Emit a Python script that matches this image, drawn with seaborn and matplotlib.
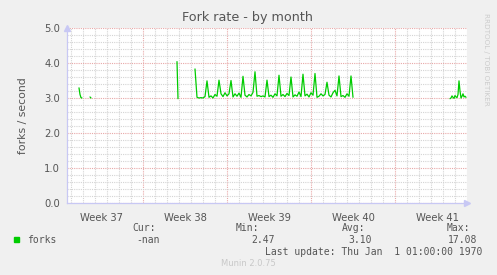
import numpy as np
import pandas as pd
import matplotlib
matplotlib.use("Agg")
import matplotlib.pyplot as plt
import matplotlib.dates as mdates
import seaborn as sns

# ---------------- data ----------------
title = "Fork rate - by month"
ylabel = "forks / second"
series_name = "forks"
week_labels = ["Week 37", "Week 38", "Week 39", "Week 40", "Week 41"]
week_starts = ["2024-09-09", "2024-09-16", "2024-09-23", "2024-09-30", "2024-10-07"]
view_start = "2024-09-09 16:00"
view_end = "2024-10-13 00:00"

seg1_start = "2024-09-10 16:00"
seg1_values = [3.29, 3.10, 3.01, 3.00]
seg2_start = "2024-09-11 14:00"
seg2_values = [3.03, 3.00]
seg3_start = "2024-09-18 20:00"
seg3_values = [4.04, 2.98]
seg4_start = "2024-09-20 08:00"
seg4_values = [3.83, 3.02, 3.00, 3.01, 3.00, 3.04,
               3.49, 3.02, 3.06, 3.00, 3.10, 3.05,
               3.51, 3.12, 3.04, 3.15, 3.06, 3.12,
               3.50, 3.03, 3.12, 3.05, 3.14, 3.02,
               3.62, 3.08, 3.03, 3.10, 3.06, 3.16,
               3.75, 3.05, 3.07, 3.04, 3.06, 3.03,
               3.51, 3.04, 3.08, 3.02, 3.12, 3.06,
               3.65, 3.05, 3.10, 3.04, 3.13, 3.07,
               3.60, 3.03, 3.09, 3.05, 3.17, 3.04,
               3.68, 3.06, 3.11, 3.03, 3.15, 3.08,
               3.70, 3.02, 3.05, 3.12, 3.06, 3.10,
               3.45, 3.08, 3.03, 3.15, 3.22, 3.06,
               3.63, 3.04, 3.07, 3.02, 3.12, 3.05,
               3.63, 3.02]
seg5_start = "2024-10-11 14:00"
seg5_values = [2.98, 3.00, 3.06, 3.02, 2.99, 3.07, 3.03, 3.01, 3.10,
               3.49, 3.20, 3.00, 3.05, 3.12, 3.03, 3.05, 3.02]

legend_headers = ["Cur:", "Min:", "Avg:", "Max:"]
legend_values = ["-nan", "2.47", "3.10", "17.08"]
last_update = "Last update: Thu Jan  1 01:00:00 1970"
footer = "Munin 2.0.75"
side_text = "RRDTOOL / TOBI OETIKER"

# ---------------- build frame ----------------
frames = []
segs = [(seg1_start, seg1_values, "4h"), (seg2_start, seg2_values, "2h"),
        (seg3_start, seg3_values, "2h"), (seg4_start, seg4_values, "4h"),
        (seg5_start, seg5_values, "2h")]
for k, (st, vals, fr) in enumerate(segs):
    t = pd.date_range(st, periods=len(vals), freq=fr)
    frames.append(pd.DataFrame({"time": t, "forks": vals, "segment": k}))
df = pd.concat(frames, ignore_index=True)
# seg1 uses 2h spacing really
df.loc[df.segment == 0, "time"] = pd.date_range(seg1_start, periods=len(seg1_values), freq="2h")

# ---------------- figure ----------------
sns.set_style("white")
plt.rcParams["font.family"] = ["DejaVu Sans"]
W, H = 497, 275
fig = plt.figure(figsize=(W / 100, H / 100), dpi=100, facecolor="#F0F0F0")
L, R, T, B = 67, 467, 28, 203
ax = fig.add_axes([L / W, (H - B) / H, (R - L) / W, (B - T) / H])
ax.set_facecolor("white")

txt = "#555555"
minor_c = "#D4D4D4"
major_c = "#E8A8A8"
axis_c = "#C8C8F4"

x0 = pd.Timestamp(view_start)
x1 = pd.Timestamp(view_end)
ax.set_xlim(x0, x1)
ax.set_ylim(0, 5)

# grid
days = pd.date_range(x0.normalize() + pd.Timedelta(days=1), x1, freq="D")
mondays = pd.to_datetime(week_starts)
ax.set_xticks(mondays[(mondays > x0) & (mondays < x1)])
ax.set_xticks(days, minor=True)
ax.set_xticklabels([])
ax.set_yticks(np.arange(0, 5.01, 1.0))
ax.set_yticks(np.arange(0, 5.01, 0.2), minor=True)
ax.set_yticklabels([f"{v:.1f}" for v in np.arange(0, 5.01, 1.0)])
ax.grid(which="minor", color=minor_c, linestyle=(0, (1, 1)), linewidth=0.8)
ax.grid(which="major", color=major_c, linestyle=(0, (1, 1)), linewidth=0.8)
ax.set_axisbelow(True)

ax.tick_params(axis="y", which="major", length=2, width=0.6, color="#888888",
               labelsize=7.2, labelcolor=txt, pad=3)
ax.tick_params(axis="y", which="minor", length=2, width=0.6, color="#999999")
ax.tick_params(axis="x", which="major", length=2, width=0.6, color="#E07070",
               direction="out")
ax.tick_params(axis="x", which="minor", length=0)

for s in ["top", "right"]:
    ax.spines[s].set_visible(False)
for s in ["left", "bottom"]:
    ax.spines[s].set_color(axis_c)
    ax.spines[s].set_linewidth(0.9)

# arrows
ax.plot([0], [1.0], marker="^", markersize=4.5, color=axis_c, transform=ax.transAxes,
        clip_on=False, zorder=5)
ax.plot([1.0], [0], marker=">", markersize=4.5, color=axis_c, transform=ax.transAxes,
        clip_on=False, zorder=5)

# data
sns.lineplot(data=df, x="time", y="forks", units="segment", estimator=None,
             color="#00CC00", linewidth=0.9, ax=ax, legend=False)
ax.set_xlabel("")
ax.set_ylabel(ylabel, fontsize=7.8, color=txt, labelpad=12)

# week labels centered mid-week
for lab, ws in zip(week_labels, mondays):
    c = ws + pd.Timedelta(days=3.5)
    ax.text(c, -0.055, lab, transform=ax.get_xaxis_transform(), ha="center",
            va="top", fontsize=7.2, color=txt)

fig.text(248 / W, 1 - 18 / H, title, ha="center", va="center", fontsize=9.2, color=txt)
fig.text(486 / W, 1 - 13 / H, side_text, ha="center", va="top", rotation=270,
         fontsize=5.2, color="#CCCCCC")

# legend area
mono = "DejaVu Sans Mono"
fs = 7.0
fig.patches.append(plt.Rectangle((14 / W, 1 - 242 / H), 5 / W, 5 / H,
                                 transform=fig.transFigure, color="#00CC00"))
fig.text(27 / W, 1 - 240 / H, series_name, family=mono, fontsize=fs, color=txt, va="center")
hx = [132, 236, 342, 447]
vx = [160, 275, 372, 477]
for h, v, xh, xv in zip(legend_headers, legend_values, hx, vx):
    fig.text(xh / W, 1 - 228 / H, h, family=mono, fontsize=fs, color=txt, va="center")
    fig.text(xv / W, 1 - 240 / H, v, family=mono, fontsize=fs, color=txt, va="center",
             ha="right")
fig.text(482 / W, 1 - 252 / H, last_update, family=mono, fontsize=fs, color=txt,
         va="center", ha="right")
fig.text(248 / W, 1 - 264 / H, footer, fontsize=6.0, color="#C8C8C8", ha="center",
         va="center")

fig.savefig("out.png", dpi=100, facecolor=fig.get_facecolor())
